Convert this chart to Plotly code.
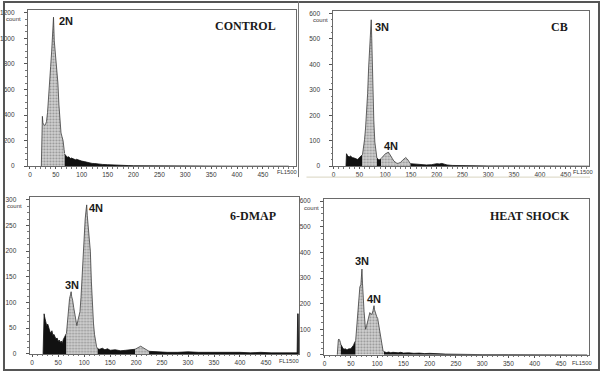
import plotly.graph_objects as go

# ---------------- data ----------------
# CONTROL
ctrl_gate_x = [22, 23, 24, 25, 26, 28, 30, 32, 34, 36, 38, 40, 42, 44, 45.5, 47, 48, 50, 52, 54, 56, 58, 60, 62, 64, 66, 67]
ctrl_gate_y = [0, 190, 390, 340, 330, 320, 325, 350, 420, 520, 640, 780, 900, 1060, 1165, 980, 930, 850, 770, 650, 480, 310, 260, 230, 200, 130, 100]
ctrl_deb_x = [67, 70, 72, 75, 78, 80, 85, 88, 90, 95, 100, 105, 110, 115, 120, 125, 130, 140, 150, 160, 170, 180, 190, 200, 220, 250, 300, 350, 400, 500]
ctrl_deb_y = [95, 80, 70, 74, 60, 64, 55, 50, 54, 44, 40, 36, 30, 29, 22, 21, 18, 14, 12, 9, 8, 6, 5, 4, 3, 2, 1, 1, 0, 0]

# CB
cb_deb1_x = [24, 25, 27, 30, 33, 36, 40, 44, 47, 50, 53, 56]
cb_deb1_y = [0, 49, 42, 36, 40, 34, 32, 30, 26, 34, 39, 45]
cb_gate1_x = [56, 58, 60, 62, 64, 66, 68, 70, 72, 73, 74, 75, 76, 78, 80, 82, 84]
cb_gate1_y = [45, 70, 104, 150, 210, 285, 390, 480, 560, 575, 500, 400, 300, 180, 95, 50, 32]
cb_deb2_x = [84, 86, 88, 90, 92]
cb_deb2_y = [32, 27, 24, 26, 30]
cb_gate2_x = [92, 95, 98, 101, 104, 106, 108, 111, 114, 117, 120, 123, 126, 130, 134, 137, 140, 143, 146, 149]
cb_gate2_y = [30, 38, 44, 50, 52, 56, 50, 42, 30, 20, 14, 11, 12, 15, 24, 30, 34, 28, 16, 10]
cb_tail_x = [149, 160, 170, 180, 190, 195, 200, 205, 210, 215, 220, 230, 250, 300, 350, 400, 495]
cb_tail_y = [10, 8, 6, 5, 6, 8, 10, 9, 11, 8, 5, 3, 2, 1, 1, 0, 0]

# 6-DMAP
dm_deb1_x = [21, 22, 23, 24, 26, 28, 30, 32, 34, 36, 38, 40, 42, 44, 46, 48, 50, 52, 54, 56, 58, 60, 62, 64, 66]
dm_deb1_y = [0, 70, 78, 72, 62, 55, 58, 48, 44, 40, 45, 36, 38, 33, 29, 31, 24, 27, 22, 25, 20, 28, 31, 36, 40]
dm_gate1_x = [66, 68, 70, 72, 74, 75, 76, 78, 80, 82, 84, 86, 88, 90, 92, 94, 96, 98, 100, 102, 104, 105, 106, 107, 108, 110, 112, 114, 116, 118, 120, 122, 124, 126]
dm_gate1_y = [40, 62, 90, 108, 116, 121, 112, 104, 90, 75, 62, 55, 65, 74, 82, 110, 155, 200, 228, 262, 282, 290, 270, 255, 248, 230, 200, 140, 95, 60, 38, 22, 14, 10]
dm_deb2_x = [126, 130, 135, 140, 145, 150, 160, 170, 180, 190, 198]
dm_deb2_y = [10, 9, 11, 8, 10, 7, 8, 6, 7, 8, 9]
dm_gate2_x = [198, 202, 206, 209, 212, 216, 220, 225]
dm_gate2_y = [9, 11, 13, 15, 13, 11, 8, 5]
dm_tail_x = [225, 240, 260, 280, 300, 320, 340, 360, 380, 400, 420, 440, 460, 480, 500, 510, 511, 512, 513]
dm_tail_y = [5, 4, 3, 3, 4, 3, 3, 4, 3, 3, 2, 3, 2, 2, 2, 2, 78, 78, 0]

# HEAT SHOCK
hs_gate0_x = [24, 25, 26, 27, 28, 29, 30, 31]
hs_gate0_y = [0, 45, 58, 62, 60, 55, 48, 40]
hs_deb1_x = [31, 33, 35, 37, 39, 41, 43, 45, 47, 49, 51, 53, 55, 57, 59]
hs_deb1_y = [40, 28, 25, 22, 24, 21, 20, 23, 22, 24, 27, 32, 38, 48, 55]
hs_gate1_x = [59, 61, 63, 65, 67, 69, 70, 71, 72, 73, 75, 77, 78, 80, 82, 84, 86, 88, 90, 92, 93, 94, 95, 97, 99, 101, 103, 105, 107, 109, 111, 113]
hs_gate1_y = [55, 100, 160, 220, 265, 275, 300, 335, 280, 235, 170, 120, 100, 115, 132, 150, 165, 160, 158, 172, 178, 192, 176, 160, 150, 142, 118, 90, 55, 32, 18, 12]
hs_deb2_x = [113, 118, 122, 126, 130, 135, 140, 145, 150, 160, 170, 180, 190, 200, 210, 220, 230, 250, 300, 350, 400, 500]
hs_deb2_y = [12, 9, 11, 8, 10, 9, 8, 10, 7, 8, 6, 7, 5, 6, 4, 4, 3, 2, 1, 1, 0, 0]

x_tick_vals = [0, 50, 100, 150, 200, 250, 300, 350, 400, 450]
ctrl_y_ticks = [0, 200, 400, 600, 800, 1000, 1200]
cb_y_ticks = [0, 100, 200, 300, 400, 500, 600]
dm_y_ticks = [0, 50, 100, 150, 200, 250, 300]
hs_y_ticks = [0, 100, 200, 300, 400, 500, 600]

titles = ["CONTROL", "CB", "6-DMAP", "HEAT SHOCK"]

# ---------------- layout helpers ----------------
W, H = 600, 374
def px(x): return x / W
def py(y): return 1 - y / H

panels = [
    dict(box=(25, 294, 9, 167), xr=[-4, 513], yr=[0, 1222], yt=ctrl_y_ticks, minor=50,
         segs=[(ctrl_gate_x, ctrl_gate_y, "g"), (ctrl_deb_x, ctrl_deb_y, "d")]),
    dict(box=(332, 589, 10, 167), xr=[-0.5, 495.5], yr=[0, 610], yt=cb_y_ticks, minor=25,
         segs=[(cb_deb1_x, cb_deb1_y, "d"), (cb_gate1_x, cb_gate1_y, "g"), (cb_deb2_x, cb_deb2_y, "d"),
               (cb_gate2_x, cb_gate2_y, "g"), (cb_tail_x, cb_tail_y, "d")]),
    dict(box=(26.7, 297.7, 198.3, 356.7), xr=[-5, 514], yr=[0, 305], yt=dm_y_ticks, minor=12.5,
         segs=[(dm_deb1_x, dm_deb1_y, "d"), (dm_gate1_x, dm_gate1_y, "g"), (dm_deb2_x, dm_deb2_y, "d"),
               (dm_gate2_x, dm_gate2_y, "g"), (dm_tail_x, dm_tail_y, "d")]),
    dict(box=(322.5, 588.7, 200, 357.7), xr=[-1.5, 503], yr=[0, 609], yt=hs_y_ticks, minor=25,
         segs=[(hs_gate0_x, hs_gate0_y, "g"), (hs_deb1_x, hs_deb1_y, "d"), (hs_gate1_x, hs_gate1_y, "g"),
               (hs_deb2_x, hs_deb2_y, "d")]),
]

fig = go.Figure()
tick_font = dict(family="Liberation Sans, Arial", size=6.5, color="#3a3a3a")

for i, p in enumerate(panels, start=1):
    sfx = "" if i == 1 else str(i)
    l, r, t, b = p["box"]
    for xs, ys, kind in p["segs"]:
        if kind == "g":
            fig.add_trace(go.Scatter(
                x=xs, y=ys, mode="lines", fill="tozeroy",
                line=dict(color="#3c3c3c", width=0.8),
                fillcolor="#c4c4c4",
                fillpattern=dict(shape=".", fgcolor="#555555", bgcolor="#d2d2d2", size=3, solidity=0.4),
                xaxis="x" + sfx, yaxis="y" + sfx, showlegend=False, hoverinfo="skip"))
        else:
            fig.add_trace(go.Scatter(
                x=xs, y=ys, mode="lines", fill="tozeroy",
                line=dict(color="#111111", width=0.8), fillcolor="#111111",
                xaxis="x" + sfx, yaxis="y" + sfx, showlegend=False, hoverinfo="skip"))
    fig.layout["xaxis" + sfx] = dict(
        domain=[px(l), px(r)], range=p["xr"], anchor="y" + sfx,
        tickvals=x_tick_vals, ticktext=[str(v) for v in x_tick_vals],
        ticks="outside", ticklen=2, tickcolor="#555", tickfont=tick_font,
        minor=dict(dtick=10, ticks="outside", ticklen=1.5, tickcolor="#777"),
        showline=True, linecolor="#6a6a6a", linewidth=1, mirror=True,
        showgrid=False, zeroline=False, fixedrange=True)
    fig.layout["yaxis" + sfx] = dict(
        domain=[py(b), py(t)], range=p["yr"], anchor="x" + sfx,
        tickvals=p["yt"], ticktext=[str(v) for v in p["yt"]],
        ticks="outside", ticklen=3, tickcolor="#555", tickfont=tick_font,
        ticklabelstandoff=8,
        minor=dict(dtick=p["minor"], ticks="outside", ticklen=1.5, tickcolor="#777"),
        showline=True, linecolor="#6a6a6a", linewidth=1, mirror=True,
        showgrid=False, zeroline=False, fixedrange=True)

annotations = []
def ann(text, x, y, size, family, bold=True, color="#1a1a1a", anchor="center"):
    annotations.append(dict(
        text=("<b>%s</b>" % text) if bold else text, x=px(x), y=py(y), xref="paper", yref="paper",
        xanchor=anchor, yanchor="middle", showarrow=False,
        font=dict(size=size, family=family, color=color)))

serif = "Liberation Serif, Times New Roman"
sans = "Liberation Sans, Arial"
ann(titles[0], 244, 25.7, 12, serif)
ann(titles[1], 559, 26, 12, serif)
ann(titles[2], 251, 217.7, 12, serif)
ann(titles[3], 530, 217.3, 12, serif)

ann("2N", 63, 20.7, 11, sans)
ann("3N", 381, 26, 11, sans)
ann("4N", 390, 146.7, 11, sans)
ann("4N", 93.3, 209, 11, sans)
ann("3N", 69.7, 287.3, 11, sans)
ann("3N", 360.7, 262.7, 11, sans)
ann("4N", 372.8, 301, 11, sans)

for cx, cy in [(11, 18), (319, 19.5), (11.3, 207.3), (310, 209)]:
    ann("count", cx, cy, 6, sans, bold=False, color="#3a3a3a")
for rx, cy in [(297, 173.3), (595, 173.3), (299, 364), (594, 365.7)]:
    ann("FL1500", rx, cy, 5.8, sans, bold=False, color="#3a3a3a", anchor="right")

shapes = [
    dict(type="rect", xref="paper", yref="paper", x0=px(1), x1=px(599), y0=py(373), y1=py(1),
         line=dict(color="#555555", width=2)),
    dict(type="line", xref="paper", yref="paper", x0=px(297), x1=px(297), y0=py(178), y1=py(0),
         line=dict(color="#777777", width=1)),
    dict(type="line", xref="paper", yref="paper", x0=px(305), x1=px(590), y0=py(178), y1=py(178),
         line=dict(color="#d8d4c0", width=1)),
]

fig.update_layout(
    width=W, height=H, margin=dict(l=0, r=0, t=0, b=0),
    paper_bgcolor="white", plot_bgcolor="white",
    annotations=annotations, shapes=shapes, showlegend=False)

fig.write_html("out.html", config={"displayModeBar": False},
               post_script="document.body.style.margin='0px';document.body.style.overflow='hidden';")
